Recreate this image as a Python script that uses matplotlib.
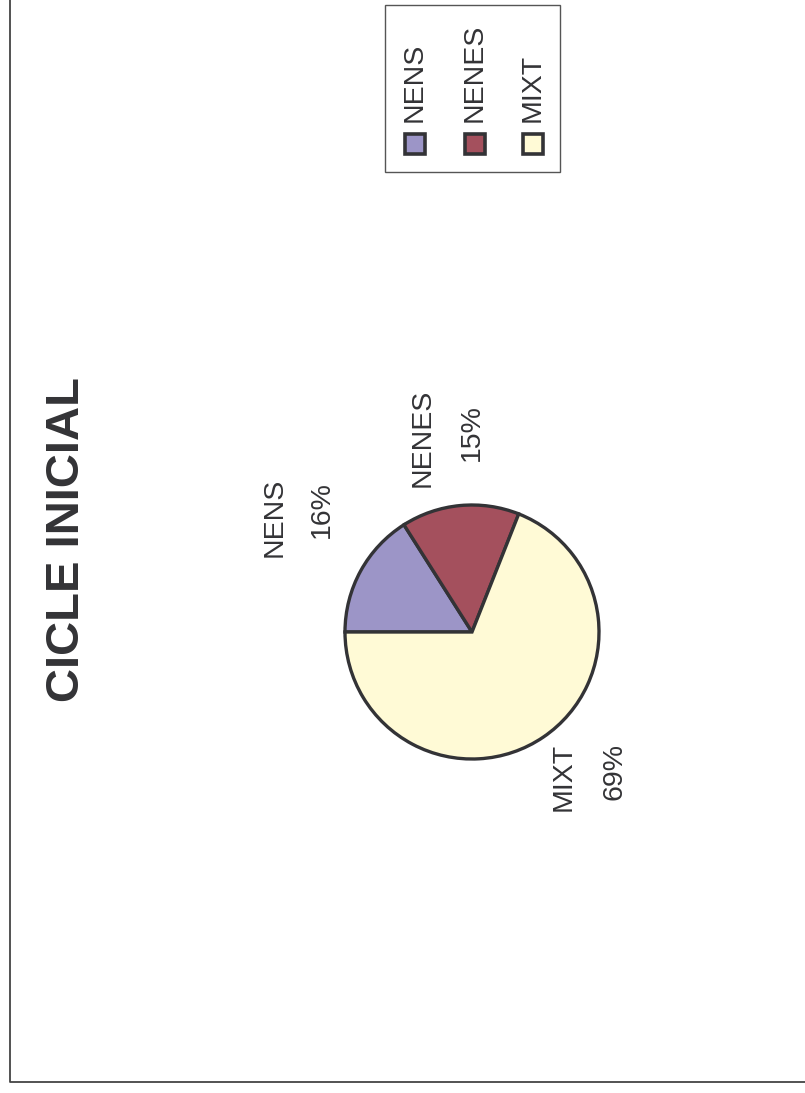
import matplotlib
matplotlib.use("Agg")
import matplotlib.pyplot as plt
from matplotlib.patches import Rectangle

# ---- data ----
categories = ["NENS", "NENES", "MIXT"]
values = [16, 15, 69]
colors = ["#9C95C7", "#A4505D", "#FFFAD6"]
title = "CICLE INICIAL"

W, H = 805, 1093
plt.rcParams['font.family'] = ['Liberation Sans', 'DejaVu Sans']
TXT = "#333336"
EDGE = "#333336"

fig = plt.figure(figsize=(W / 100, H / 100), dpi=100)
ax = fig.add_axes([0, 0, 1, 1])

def Y(y):
    return H - y

# pie
wedges, _ = ax.pie(values, colors=colors, startangle=180, counterclock=False,
                   center=(472, Y(632)), radius=127, frame=True,
                   wedgeprops=dict(edgecolor=EDGE, linewidth=2.4))
ax.set_xlim(0, W)
ax.set_ylim(0, H)
ax.set_aspect('equal')
ax.axis('off')

# frame (left and bottom edges visible)
ax.plot([10, 10, W + 5], [H + 5, Y(1082), Y(1082)], color="#444444", lw=1.3,
        solid_capstyle='butt')

# title
ax.text(67, Y(540), title, rotation=90, ha='center', va='center',
        fontsize=34, fontweight='bold', color=TXT)

# slice labels (rotated like the reference)
label_pos = [((275, 517), (322, 510)),
             ((423, 438), (472, 433)),
             ((564, 777), (614, 772))]
for name, val, (p1, p2) in zip(categories, values, label_pos):
    ax.text(p1[0], Y(p1[1]), name, rotation=90, ha='center', va='center',
            fontsize=20.5, color=TXT)
    ax.text(p2[0], Y(p2[1]), f"{val}%", rotation=90, ha='center', va='center',
            fontsize=20.5, color=TXT)

# legend box (rotated)
ax.add_patch(Rectangle((385, Y(172)), 175, 167, facecolor='white',
                       edgecolor="#555555", lw=1.0))
leg_x = [415, 475, 533]
for name, col, lx in zip(categories, colors, leg_x):
    ax.add_patch(Rectangle((lx - 10, Y(154)), 20, 20, facecolor=col,
                           edgecolor=EDGE, lw=2.6))
    ax.text(lx, Y(122), name, rotation=90, ha='center', va='bottom',
            fontsize=20.5, color=TXT)

fig.savefig("out.png", dpi=100)
